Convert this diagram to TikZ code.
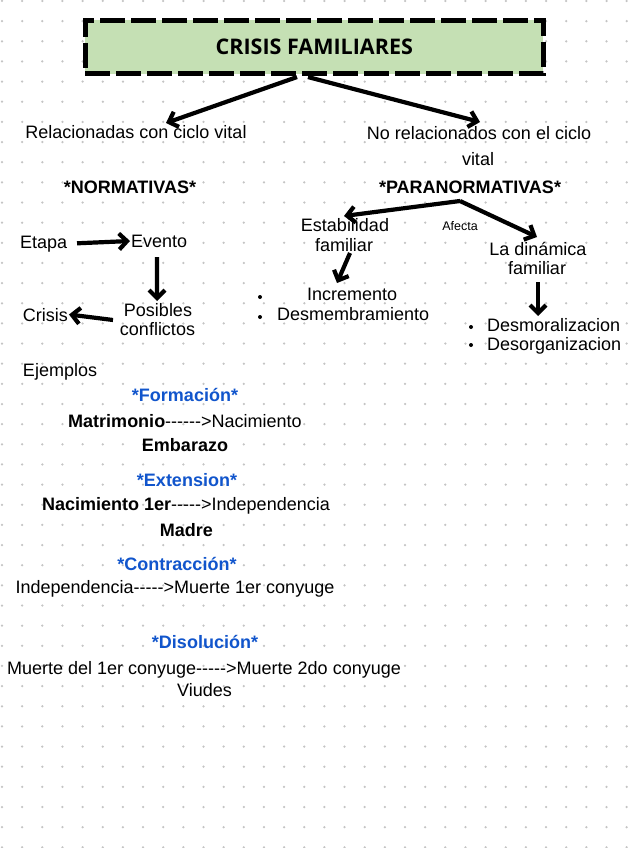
\documentclass[tikz,border=0pt]{standalone}
\usepackage{fontspec}
\setmainfont{Liberation Sans}[Ligatures=TeXOff]
\newfontfamily\titlefont{Open Sans}
\usetikzlibrary{arrows.meta,calc}
\definecolor{boxgreen}{RGB}{197,224,180}
\definecolor{exblue}{RGB}{17,85,204}
\definecolor{dotgray}{RGB}{196,196,196}
\begin{document}
\begin{tikzpicture}[x=1pt,y=-1pt,
  txt/.style={inner sep=0pt, outer sep=0pt, anchor=base, font=\fontsize{18}{21}\selectfont},
  txtl/.style={txt, anchor=base west},
  btxt/.style={txt, font=\fontsize{18}{21}\selectfont\bfseries},
  bluetxt/.style={btxt, text=exblue},
  smalltxt/.style={txt, font=\fontsize{12.5}{14}\selectfont},
  bul/.style={circle, fill=black, inner sep=0pt, minimum size=4pt},
  titlebox/.style={draw=black, line width=4.7pt, dash pattern=on 25pt off 6pt,
     fill=boxgreen, minimum width=458pt, minimum height=53.4pt, inner sep=0pt,
     font=\titlefont\fontsize{21.5}{24}\selectfont\bfseries},
  arr/.style={line width=4.2pt, -{Straight Barb[length=8pt,width=16pt]}}
]
\useasboundingbox (0,0) rectangle (627,848);
\fill[white] (0,0) rectangle (627,848);
% dotted grid
\foreach \i in {0,...,31}{
  \foreach \j in {0,...,42}{
    \fill[dotgray] ({2+20.15*\i},{1+20.15*\j}) circle (1.25pt);
  }
}
% title
\node[titlebox] (title) at (314.3,47) {CRISIS FAMILIARES};

% top level
\node[txt] (rel) at (136,139) {Relacionadas con ciclo vital};
\node[txt] (norel1) at (479,139.5) {No relacionados con el ciclo};
\node[txt] (norel2) at (478,165) {vital};
\node[btxt] (norm) at (130,193) {*NORMATIVAS*};
\node[btxt] (para) at (470,193) {*PARANORMATIVAS*};

% right branch
\node[txt] (estab1) at (345,231) {Estabilidad};
\node[txt] (estab2) at (344,251) {familiar};
\node[smalltxt] (afecta) at (460,230) {Afecta};
\node[txt] (din1) at (538,255) {La dinámica};
\node[txt] (din2) at (537,274) {familiar};
\node[bul] (b1) at (260,297) {};
\node[bul] (b2) at (260,317) {};
\node[txtl] (incr) at (307,300) {Incremento};
\node[txtl] (desm) at (277,320) {Desmembramiento};
\node[bul] (b3) at (471,327) {};
\node[bul] (b4) at (471,345) {};
\node[txtl] (desmor) at (487,331.5) {Desmoralizacion};
\node[txtl] (desorg) at (487,350) {Desorganizacion};

% left branch
\node[txtl] (etapa) at (20,248) {Etapa};
\node[txtl] (evento) at (131,247) {Evento};
\node[txt] (pos1) at (158,316.5) {Posibles};
\node[txt] (pos2) at (157.5,335) {conflictos};
\node[txtl] (crisis) at (23,321.5) {Crisis};
\node[txtl] (ejemplos) at (23,376.5) {Ejemplos};

% examples
\node[bluetxt] (form) at (185,401.5) {*Formación*};
\node[txt] (ex1) at (185,427) {\textbf{Matrimonio}------>Nacimiento};
\node[btxt] (ex1b) at (185,451.5) {Embarazo};
\node[bluetxt] (ext) at (187,486.5) {*Extension*};
\node[txt] (ex2) at (186,510) {\textbf{Nacimiento 1er}----->Independencia};
\node[btxt] (ex2b) at (186.5,536) {Madre};
\node[bluetxt] (contr) at (177,570) {*Contracción*};
\node[txt] (ex3) at (175,593.5) {Independencia----->Muerte 1er conyuge};
\node[bluetxt] (disol) at (205,648) {*Disolución*};
\node[txt] (ex4) at (204,674) {Muerte del 1er conyuge----->Muerte 2do conyuge};
\node[txt] (ex4b) at (204.5,696.5) {Viudes};

% connectors
\draw[arr] ($(title.south)+(-17.3,1)$) -- ($(rel.base)+(30,-16)$);
\draw[arr] ($(title.south)+(-6.3,1)$) -- ($(norel1.base)+(1,-17.5)$);
\draw[arr] ($(para.base)+(-10,8)$) -- ($(estab1.base)+(-1,-15)$);
\draw[arr] ($(para.base)+(-10,8)$) -- ($(din1.base)+(-1,-18)$);
\draw[arr] ($(estab2.base)+(6,2)$) -- ($(incr.base west)+(30,-17)$);
\draw[arr] ($(din2.base)+(1,8)$) -- ($(desmor.base west)+(51,-15.5)$);
\draw[arr] ($(etapa.base east)+(10,-4.7)$) -- ($(evento.base west)+(-1,-6)$);
\draw[arr] ($(evento.base)+(-2,10)$) -- ($(pos1.base)+(-1,-15.5)$);
\draw[arr] ($(pos1.base west)+(-11,3.5)$) -- ($(crisis.base east)+(1,-7)$);
\end{tikzpicture}
\end{document}
